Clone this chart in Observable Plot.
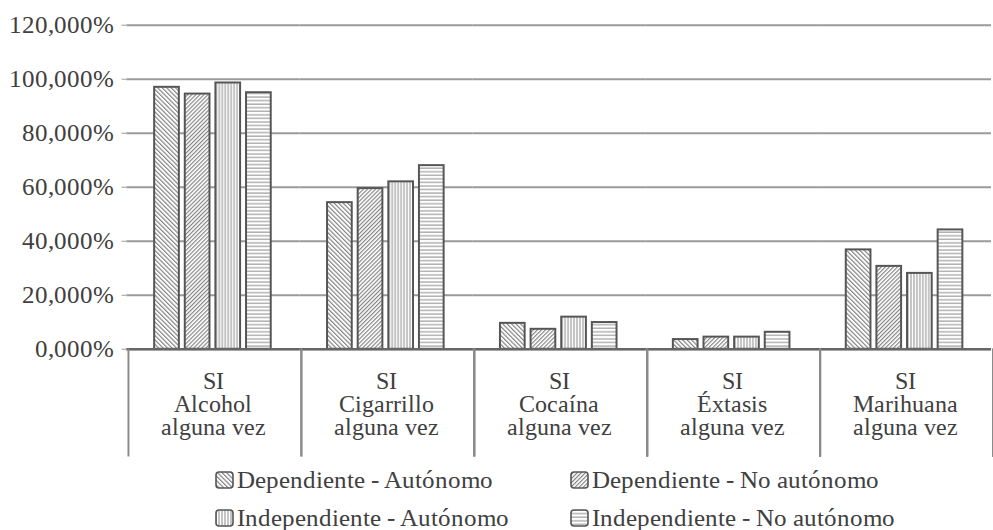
<!DOCTYPE html>
<html><head><meta charset="utf-8">
<script src="https://cdn.jsdelivr.net/npm/d3@7"></script>
<script src="https://cdn.jsdelivr.net/npm/@observablehq/plot@0.6"></script>
<style>
@font-face{font-family:'ChartSerif';src:local('Liberation Serif'),local('LiberationSerif'),local('LiberationSerif-Regular'),local('Tinos'),local('Times New Roman'),local('DejaVu Serif');}
html,body{margin:0;padding:0;background:#fff;overflow:hidden;}
#wrap{width:993px;height:530px;overflow:hidden;position:relative;color:#404040;font-family:'ChartSerif','Liberation Serif',serif;}
#legend{position:absolute;left:215px;top:461px;display:grid;grid-template-columns:355px auto;font-size:25px;}
.item{display:flex;align-items:center;height:38px;white-space:nowrap;}
.item svg{margin-right:3px;flex:none;}
</style></head><body>
<div id="wrap"><div id="chart"></div><div id="legend"></div></div>
<script>
const categories = ["Alcohol", "Cigarrillo", "Cocaína", "Éxtasis", "Marihuana"];
const series = ["Dependiente - Autónomo", "Dependiente - No autónomo", "Independiente - Autónomo", "Independiente - No autónomo"];
const depAut    = [97.0, 54.3, 9.6, 3.6, 36.8];
const depNoAut  = [94.5, 59.5, 7.4, 4.5, 30.7];
const indAut    = [98.6, 62.0, 11.9, 4.5, 28.1];
const indNoAut  = [95.0, 68.0, 9.9, 6.3, 44.2];
const yTicks = [0, 20, 40, 60, 80, 100, 120];

const valuesBySeries = [depAut, depNoAut, indAut, indNoAut];
const data = [];
categories.forEach((c, i) => series.forEach((s, j) => data.push({category: c, series: s, value: valuesBySeries[j][i]})));

const patternIds = ["pat0", "pat1", "pat2", "pat3"];
const defsMarkup = `
<pattern id="pat0" patternUnits="userSpaceOnUse" width="3.2" height="3.2" patternTransform="rotate(-45)">
  <rect width="3.2" height="3.2" fill="#fff"/><line x1="0.6" y1="0" x2="0.6" y2="3.2" stroke="#7a7a7a" stroke-width="1.1"/></pattern>
<pattern id="pat1" patternUnits="userSpaceOnUse" width="2.9" height="2.9" patternTransform="rotate(45)">
  <rect width="2.9" height="2.9" fill="#fff"/><line x1="0.6" y1="0" x2="0.6" y2="2.9" stroke="#7a7a7a" stroke-width="1.1"/></pattern>
<pattern id="pat2" patternUnits="userSpaceOnUse" width="3" height="3">
  <rect width="3" height="3" fill="#fff"/><line x1="1" y1="0" x2="1" y2="3" stroke="#8a8a8a" stroke-width="1"/></pattern>
<pattern id="pat3" patternUnits="userSpaceOnUse" width="3.6" height="3.6">
  <rect width="3.6" height="3.6" fill="#fff"/><line x1="0" y1="1" x2="3.6" y2="1" stroke="#8a8a8a" stroke-width="1"/></pattern>`;

const fmt = v => v.toFixed(3).replace(".", ",") + "%";

function dividers(index, scales, values, dimensions) {
  const g = d3.create("svg:g").attr("stroke", "#8a8a8a").attr("stroke-width", 2);
  const fx = scales.fx, y0 = scales.y(0);
  for (const c of categories) {
    const x = fx(c);
    g.append("line").attr("x1", x).attr("x2", x).attr("y1", y0).attr("y2", dimensions.height - 4);
  }
  return g.node();
}

const FONT = "ChartSerif, 'Liberation Serif', serif";
const H = 466;
const chart = Plot.plot({
  width: 1005, height: H,
  marginLeft: 126, marginRight: 0, marginTop: 25, marginBottom: H - 353,
  style: {fontFamily: FONT, fontSize: "25px", color: "#404040", background: "transparent", overflow: "visible"},
  fx: {domain: categories, padding: 0, label: null},
  x: {domain: series, paddingInner: 0.19, paddingOuter: 0.875, axis: null, label: null},
  y: {domain: [0, 120], label: null},
  color: {domain: series, range: patternIds.map(id => `url(#${id})`)},
  marks: [
    Plot.gridY(yTicks, {stroke: "#9a9a9a", strokeOpacity: 1, strokeWidth: 2}),
    Plot.axisY(yTicks, {tickFormat: fmt, tickSize: 5, tickPadding: 8, stroke: "#9a9a9a", fontSize: 25, fontFamily: FONT, label: null}),
    Plot.barY(data, {fx: "category", x: "series", y: "value", fill: "series", stroke: "#555", strokeWidth: 2}),
    Plot.ruleY([0], {stroke: "#666", strokeWidth: 2.5}),
    Plot.axisFx({anchor: "bottom", tickSize: 0, tickPadding: 24, tickFormat: c => `SI\n${c}\nalguna vez`, lineHeight: 0.96, fontSize: 24, fontFamily: FONT, label: null}),
    dividers
  ]
});
const defs = document.createElementNS("http://www.w3.org/2000/svg", "defs");
defs.innerHTML = defsMarkup;
chart.insertBefore(defs, chart.firstChild);
document.getElementById("chart").appendChild(chart);

const legend = document.getElementById("legend");
series.forEach((s, j) => {
  const item = document.createElement("div");
  item.className = "item";
  item.innerHTML = `<svg width="19" height="18"><rect x="1" y="1" width="17" height="16" rx="3" fill="url(#${patternIds[j]})" stroke="#555" stroke-width="1.6"/></svg><span>${s}</span>`;
  legend.appendChild(item);
});
</script>
</body></html>
